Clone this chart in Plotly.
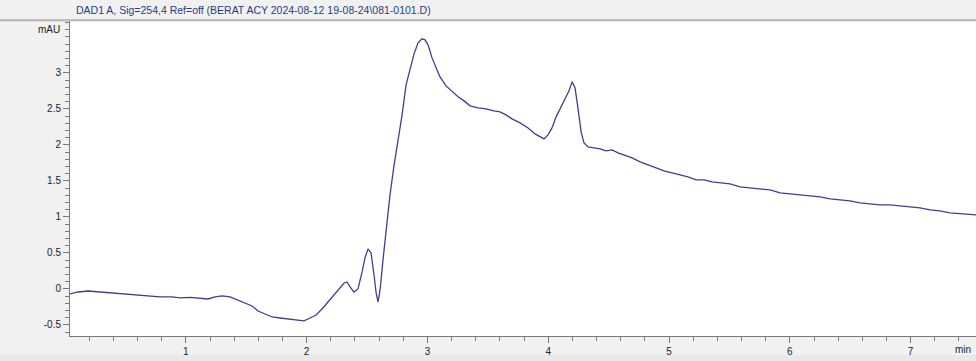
import plotly.graph_objects as go

# DAD signal: retention time (min) and absorbance (mAU)
time_min = [
    0.041, 0.108, 0.190, 0.290, 0.373, 0.472, 0.579, 0.687, 0.786, 0.886,
    0.952, 1.035, 1.118, 1.184, 1.242, 1.300, 1.366, 1.432, 1.498, 1.548,
    1.598, 1.656, 1.714, 1.780, 1.863, 1.929, 1.978, 2.028, 2.078, 2.127,
    2.177, 2.227, 2.276, 2.310, 2.334, 2.359, 2.392, 2.425, 2.459, 2.483,
    2.508, 2.533, 2.558, 2.575, 2.591, 2.608, 2.632, 2.657, 2.690, 2.724,
    2.757, 2.790, 2.823, 2.856, 2.889, 2.922, 2.955, 2.980, 3.005, 3.038,
    3.071, 3.104, 3.154, 3.204, 3.253, 3.303, 3.353, 3.419, 3.485, 3.551,
    3.601, 3.651, 3.700, 3.767, 3.833, 3.891, 3.932, 3.965, 3.998, 4.031,
    4.065, 4.098, 4.139, 4.172, 4.197, 4.222, 4.247, 4.272, 4.296, 4.329,
    4.379, 4.429, 4.478, 4.528, 4.578, 4.627, 4.694, 4.760, 4.826, 4.892,
    4.959, 5.025, 5.091, 5.157, 5.224, 5.290, 5.356, 5.422, 5.505, 5.588,
    5.671, 5.753, 5.836, 5.919, 6.002, 6.084, 6.167, 6.250, 6.333, 6.416,
    6.498, 6.581, 6.664, 6.747, 6.830, 6.912, 6.995, 7.078, 7.161, 7.243,
    7.326, 7.409, 7.541,
]
absorbance_mau = [
    -0.069, -0.042, -0.028, -0.042, -0.056, -0.069, -0.083, -0.097, -0.111, -0.111,
    -0.125, -0.118, -0.125, -0.139, -0.111, -0.097, -0.111, -0.153, -0.194, -0.236,
    -0.306, -0.347, -0.389, -0.403, -0.417, -0.431, -0.444, -0.403, -0.361, -0.278,
    -0.181, -0.083, 0.014, 0.083, 0.097, 0.028, -0.042, 0.000, 0.236, 0.431,
    0.556, 0.500, 0.194, -0.056, -0.181, -0.014, 0.403, 0.792, 1.306, 1.722,
    2.069, 2.417, 2.833, 3.069, 3.264, 3.417, 3.472, 3.458, 3.389, 3.208,
    3.069, 2.944, 2.819, 2.736, 2.667, 2.611, 2.542, 2.514, 2.500, 2.472,
    2.458, 2.417, 2.361, 2.306, 2.236, 2.153, 2.111, 2.083, 2.139, 2.236,
    2.389, 2.500, 2.625, 2.750, 2.875, 2.792, 2.500, 2.181, 2.028, 1.972,
    1.958, 1.944, 1.917, 1.931, 1.889, 1.861, 1.819, 1.764, 1.722, 1.681,
    1.639, 1.611, 1.583, 1.556, 1.514, 1.514, 1.486, 1.472, 1.458, 1.417,
    1.403, 1.389, 1.375, 1.333, 1.319, 1.306, 1.292, 1.278, 1.250, 1.236,
    1.222, 1.194, 1.181, 1.167, 1.167, 1.153, 1.139, 1.125, 1.097, 1.083,
    1.056, 1.042, 1.028,
]

x_ticks = [1, 2, 3, 4, 5, 6, 7]
x_tick_text = ["1", "2", "3", "4", "5", "6", "7"]
y_ticks = [-0.5, 0, 0.5, 1, 1.5, 2, 2.5, 3]
y_tick_text = ["-0.5", "0", "0.5", "1", "1.5", "2", "2.5", "3"]

signal_title = "DAD1 A, Sig=254,4 Ref=off (BERAT ACY 2024-08-12 19-08-24\\081-0101.D)"

FONT = "Liberation Sans, Arial, sans-serif"
AXIS_GREY = "#7a7a7a"
X_RANGE = [0.041, 7.541]
Y_RANGE = [-0.653, 3.72]

fig = go.Figure()
fig.add_trace(go.Scatter(
    x=time_min, y=absorbance_mau, mode="lines",
    line=dict(color="#3f3f92", width=1.3),
    hoverinfo="x+y", showlegend=False,
))

common_tickfont = dict(family=FONT, size=10, color="#222222")

fig.update_layout(
    width=976, height=361,
    margin=dict(l=70, r=0, t=21, b=25),
    paper_bgcolor="#f1f1f1",
    plot_bgcolor="#ffffff",
    font=dict(family=FONT, size=10, color="#222222"),
    xaxis=dict(
        range=X_RANGE, tickmode="array", tickvals=x_ticks, ticktext=x_tick_text,
        ticks="outside", ticklen=6, tickcolor=AXIS_GREY, tickwidth=1,
        minor=dict(tickmode="linear", tick0=0, dtick=0.2, ticks="outside",
                   ticklen=4, tickcolor=AXIS_GREY, tickwidth=1, showgrid=False),
        showline=True, linecolor=AXIS_GREY, linewidth=1,
        showgrid=False, zeroline=False, tickfont=common_tickfont,
    ),
    yaxis=dict(
        range=Y_RANGE, tickmode="array", tickvals=y_ticks, ticktext=y_tick_text,
        ticks="outside", ticklen=6, tickcolor=AXIS_GREY, tickwidth=1,
        minor=dict(tickmode="linear", tick0=0, dtick=0.1, ticks="outside",
                   ticklen=4, tickcolor=AXIS_GREY, tickwidth=1, showgrid=False),
        showline=True, linecolor=AXIS_GREY, linewidth=1,
        showgrid=False, zeroline=False, tickfont=common_tickfont,
    ),
    shapes=[
        # separator under the signal header
        dict(type="line", xref="paper", yref="paper",
             x0=-0.08, x1=1.0, y0=1.002, y1=1.002,
             line=dict(color="#b4b4b4", width=2)),
        # footer strip
        dict(type="rect", xref="paper", yref="paper",
             x0=-0.08, x1=1.0, y0=-0.06, y1=-0.08,
             fillcolor="#e9e9e9", line=dict(width=0), layer="below"),
    ],
    annotations=[
        dict(text=signal_title, xref="paper", yref="paper",
             x=(253 - 70) / 906, y=(336 - 10) / 315,
             xanchor="center", yanchor="middle", showarrow=False,
             font=dict(family=FONT, size=10.5, color="#1f3c88")),
        dict(text="mAU", xref="paper", yref="y",
             x=-0.0085, y=3.6, xanchor="right", yanchor="middle",
             showarrow=False, font=common_tickfont),
        dict(text="min", xref="x", yref="paper",
             x=7.43, y=(336 - 349) / 315, xanchor="center", yanchor="middle",
             showarrow=False, font=common_tickfont),
    ],
)

fig.write_html("out.html")
